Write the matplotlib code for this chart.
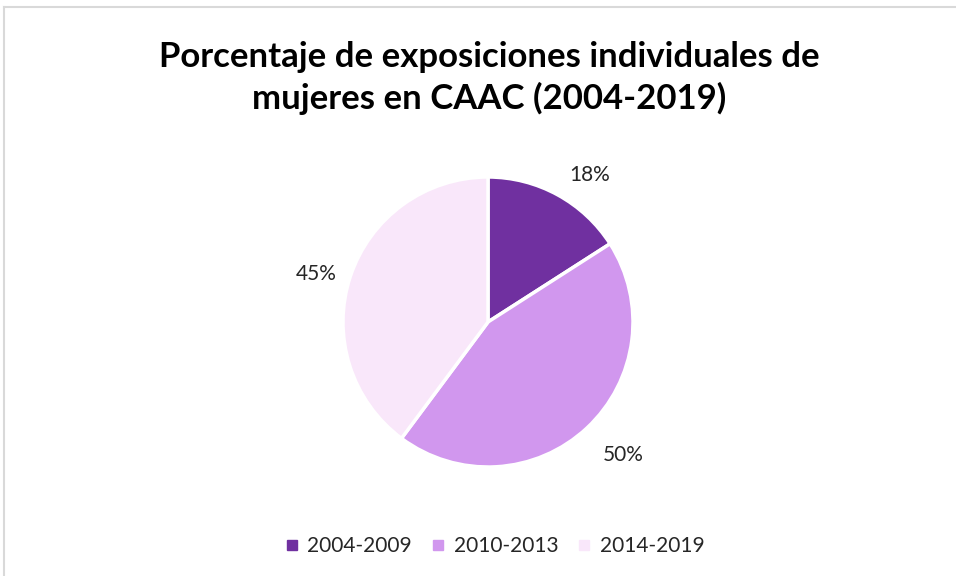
import matplotlib.pyplot as plt
from matplotlib.lines import Line2D

periods = ["2004-2009", "2010-2013", "2014-2019"]
values = [18, 50, 45]
labels = ["18%", "50%", "45%"]
colors = ["#7030A0", "#D197EE", "#F9E7FA"]

plt.rcParams["font.family"] = ["Lato", "DejaVu Sans"]

W, H = 956, 576
fig = plt.figure(figsize=(W / 100, H / 100), dpi=100)
fig.patch.set_facecolor("white")

# chart border (gray frame, cut by the image edge)
frame_col = "#D9D9D9"
fig.add_artist(Line2D([4 / W, 1], [1 - 7 / H, 1 - 7 / H], color=frame_col, lw=1.5))
fig.add_artist(Line2D([4 / W, 4 / W], [0, 1 - 7 / H], color=frame_col, lw=1.5))

fig.text(489 / W, 1 - 78 / H,
         "Porcentaje de exposiciones individuales de\nmujeres en CAAC (2004-2019)",
         ha="center", va="center", fontsize=25, fontweight="bold",
         linespacing=1.3, color="black")

# pie: centre ~ (488, 322) px, radius ~145 px
cx, cy, r = 488, 322, 145
ax = fig.add_axes([(cx - r) / W, (H - cy - r) / H, 2 * r / W, 2 * r / H])
wedges, texts = ax.pie(values, labels=labels, colors=colors, startangle=90,
                       counterclock=False, labeldistance=1.25,
                       wedgeprops=dict(edgecolor="white", linewidth=2.5),
                       textprops=dict(fontsize=15, color="#262626"))
# Excel nudges the outside labels a little
nudges = [(0.1, -0.08), (0.08, 0.0), (0.0, -0.06)]
for t, (dx, dy) in zip(texts, nudges):
    t.set_ha("center")
    t.set_va("center")
    x, y = t.get_position()
    t.set_position((x + dx, y + dy))
ax.set_aspect("equal")
ax.set_xlim(-1, 1)
ax.set_ylim(-1, 1)

handles = [Line2D([], [], marker="s", linestyle="none", markersize=7,
                  markerfacecolor=c, markeredgecolor=c) for c in colors]
fig.legend(handles, periods, loc="center", bbox_to_anchor=(494 / W, 1 - 546 / H),
           ncol=3, frameon=False, fontsize=15, handlelength=0.8,
           handletextpad=0.35, columnspacing=0.85, labelcolor="#262626")

fig.savefig("out.png", dpi=100)
